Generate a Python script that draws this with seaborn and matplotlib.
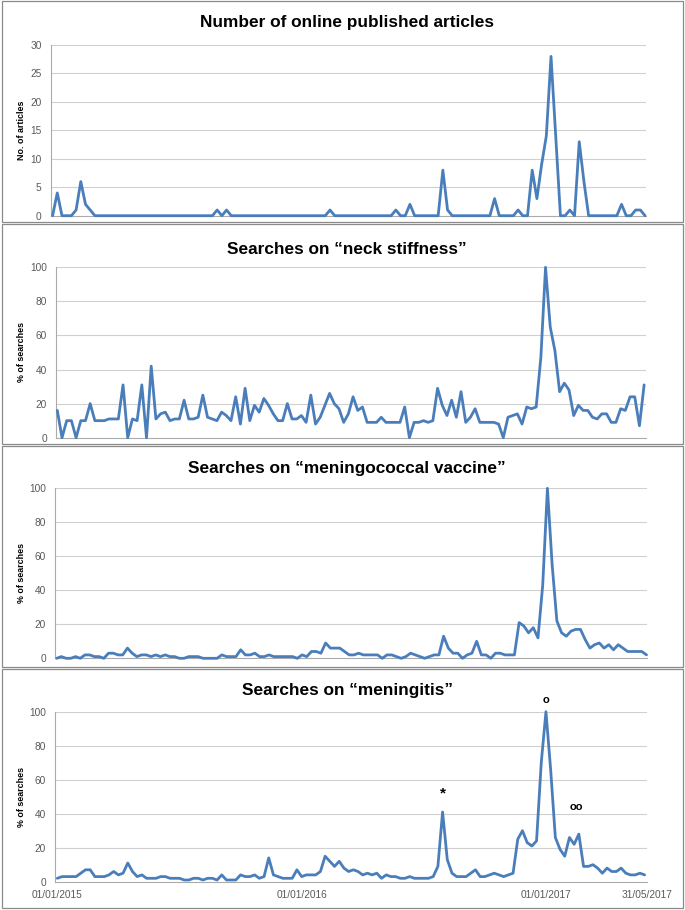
import matplotlib
matplotlib.use("Agg")
import matplotlib.pyplot as plt
import seaborn as sns
import pandas as pd
from matplotlib.patches import Rectangle

# ---------------- data (weekly values) ----------------
articles = [0, 4, 0, 0, 0, 1, 6, 2, 1, 0,
            0, 0, 0, 0, 0, 0, 0, 0, 0, 0,
            0, 0, 0, 0, 0, 0, 0, 0, 0, 0,
            0, 0, 0, 0, 0, 1, 0, 1, 0, 0,
            0, 0, 0, 0, 0, 0, 0, 0, 0, 0,
            0, 0, 0, 0, 0, 0, 0, 0, 0, 1,
            0, 0, 0, 0, 0, 0, 0, 0, 0, 0,
            0, 0, 0, 1, 0, 0, 2, 0, 0, 0,
            0, 0, 0, 8, 1, 0, 0, 0, 0, 0,
            0, 0, 0, 0, 3, 0, 0, 0, 0, 1,
            0, 0, 8, 3, 9, 14, 28, 14, 0, 0,
            1, 0, 13, 6, 0, 0, 0, 0, 0, 0,
            0, 2, 0, 0, 1, 1, 0]

neck_stiffness = [16, 0, 10, 10, 0, 10, 10, 20, 10, 10,
                  10, 11, 11, 11, 31, 0, 11, 10, 31, 0,
                  42, 11, 14, 15, 10, 11, 11, 22, 11, 11,
                  12, 25, 12, 11, 10, 15, 13, 10, 24, 8,
                  29, 10, 19, 15, 23, 19, 14, 10, 10, 20,
                  11, 11, 13, 9, 25, 8, 12, 19, 26, 20,
                  17, 9, 14, 24, 16, 18, 9, 9, 9, 12,
                  9, 9, 9, 9, 18, 0, 9, 9, 10, 9,
                  10, 29, 19, 13, 22, 12, 27, 9, 12, 17,
                  9, 9, 9, 9, 8, 0, 12, 13, 14, 8,
                  18, 17, 18, 47, 100, 65, 51, 27, 32, 28,
                  13, 19, 16, 16, 12, 11, 14, 14, 9, 9,
                  17, 16, 24, 24, 7, 31]

meningococcal_vaccine = [0, 1, 0, 0, 1, 0, 2, 2, 1, 1,
                         0, 3, 3, 2, 2, 6, 3, 1, 2, 2,
                         1, 2, 1, 2, 1, 1, 0, 0, 1, 1,
                         1, 0, 0, 0, 0, 2, 1, 1, 1, 5,
                         2, 2, 3, 1, 1, 2, 1, 1, 1, 1,
                         1, 0, 2, 1, 4, 4, 3, 9, 6, 6,
                         6, 4, 2, 2, 3, 2, 2, 2, 2, 0,
                         2, 2, 1, 0, 1, 3, 2, 1, 0, 1,
                         2, 2, 13, 6, 3, 3, 0, 2, 3, 10,
                         2, 2, 0, 3, 3, 2, 2, 2, 21, 19,
                         15, 18, 12, 43, 100, 55, 22, 15, 13, 16,
                         17, 17, 11, 6, 8, 9, 6, 8, 5, 8,
                         6, 4, 4, 4, 4, 2]

meningitis = [2, 3, 3, 3, 3, 5, 7, 7, 3, 3,
              3, 4, 6, 4, 5, 11, 6, 3, 4, 2,
              2, 2, 3, 3, 2, 2, 2, 1, 1, 2,
              2, 1, 2, 2, 1, 4, 1, 1, 1, 4,
              3, 3, 4, 2, 3, 14, 4, 3, 2, 2,
              2, 7, 3, 4, 4, 4, 6, 15, 12, 9,
              12, 8, 6, 7, 6, 4, 5, 4, 5, 2,
              4, 3, 3, 2, 2, 3, 2, 2, 2, 2,
              3, 9, 41, 13, 5, 3, 3, 3, 5, 7,
              3, 3, 4, 5, 4, 3, 4, 5, 25, 30,
              23, 21, 24, 70, 100, 66, 26, 19, 15, 26,
              22, 28, 9, 9, 10, 8, 5, 8, 6, 6,
              8, 5, 4, 4, 5, 4]

titles = ["Number of online published articles",
          "Searches on \u201cneck stiffness\u201d",
          "Searches on \u201cmeningococcal vaccine\u201d",
          "Searches on \u201cmeningitis\u201d"]
ylabels = ["No. of articles", "% of searches", "% of searches", "% of searches"]
date_labels = ["01/01/2015", "01/01/2016", "01/01/2017", "31/05/2017"]
date_weeks = [0, 52, 104, 125.4]
annotations = [("*", 82, 52), ("o", 104, 107), ("oo", 110.5, 44)]

# ---------------- figure ----------------
W, H = 685, 910
sns.set_style("white")
plt.rcParams["font.family"] = ["Liberation Sans", "DejaVu Sans"]
fig = plt.figure(figsize=(W / 100, H / 100), dpi=100)
fig.patch.set_facecolor("white")

LINE = "#4A7EBB"
GRID = "#D0D0D0"
AXC = "#ABABAB"
TICKC = "#595959"

# panel boxes
boxes = [(2, 1, 683, 222), (2, 224, 683, 444), (2, 446, 683, 667), (2, 669, 683, 908)]
for (x0, y0, x1, y1) in boxes:
    fig.add_artist(Rectangle((x0 / W, 1 - y1 / H), (x1 - x0) / W, (y1 - y0) / H,
                             transform=fig.transFigure, fill=False,
                             edgecolor="#8A8A8A", linewidth=0.9))

panels = [
    dict(data=articles, l=50.7, r=646, top=45, bot=215.7, xlim=(-0.4, 126.2),
         ylim=30, ystep=5, title_y=22, xt=[63, 126.2]),
    dict(data=neck_stiffness, l=56, r=646, top=267.3, bot=437.7, xlim=(-0.28, 125.4),
         ylim=100, ystep=20, title_y=249, xt=[62.6, 125.4]),
    dict(data=meningococcal_vaccine, l=55, r=647, top=488.3, bot=658.3, xlim=(-0.35, 125.1),
         ylim=100, ystep=20, title_y=469, xt=[63, 125.1]),
    dict(data=meningitis, l=55, r=646.5, top=711.7, bot=881.7, xlim=(-0.49, 125.4),
         ylim=100, ystep=20, title_y=691, xt=date_weeks),
]

for i, p in enumerate(panels):
    ax = fig.add_axes([p["l"] / W, 1 - p["bot"] / H, (p["r"] - p["l"]) / W,
                       (p["bot"] - p["top"]) / H])
    df = pd.DataFrame({"week": range(len(p["data"])), "value": p["data"]})
    sns.lineplot(data=df, x="week", y="value", ax=ax, color=LINE, linewidth=2.0,
                 clip_on=False, zorder=5)
    ax.set_xlim(*p["xlim"])
    ax.set_ylim(0, p["ylim"])
    yt = list(range(0, p["ylim"] + 1, p["ystep"]))
    ax.set_yticks(yt)
    ax.set_yticklabels([str(v) for v in yt])
    for v in yt[1:]:
        ax.axhline(v, color=GRID, linewidth=0.8, zorder=0)
    ax.set_xlabel("")
    ax.set_ylabel("")
    for s in ["top", "right"]:
        ax.spines[s].set_visible(False)
    for s in ["left", "bottom"]:
        ax.spines[s].set_color(AXC)
        ax.spines[s].set_linewidth(0.8)
    ax.tick_params(axis="y", length=0, pad=6.5, labelsize=7.3, labelcolor=TICKC)
    ax.set_xticks(p["xt"])
    if i == 3:
        ax.set_xticklabels(date_labels)
    else:
        ax.set_xticklabels([""] * len(p["xt"]))
    ax.tick_params(axis="x", length=3.5, width=0.8, color=AXC, pad=2.5,
                   labelsize=7.3, labelcolor=TICKC, direction="out")
    ax.patch.set_alpha(0)

    fig.text(347 / W, 1 - p["title_y"] / H, titles[i], ha="center", va="center",
             fontsize=12.4, fontweight="bold", color="black")
    fig.text(21.5 / W, 1 - (p["top"] + p["bot"]) / 2 / H, ylabels[i], rotation=90,
             ha="center", va="center", fontsize=6.4, fontweight="bold", color="black")

    if i == 3:
        for txt, xw, yv in annotations:
            ax.text(xw, yv, txt, ha="center", va="center", fontsize=8 if txt != "*" else 11,
                    fontweight="bold", color="black", clip_on=False, zorder=6)

fig.savefig("out.png", dpi=100, facecolor="white")
